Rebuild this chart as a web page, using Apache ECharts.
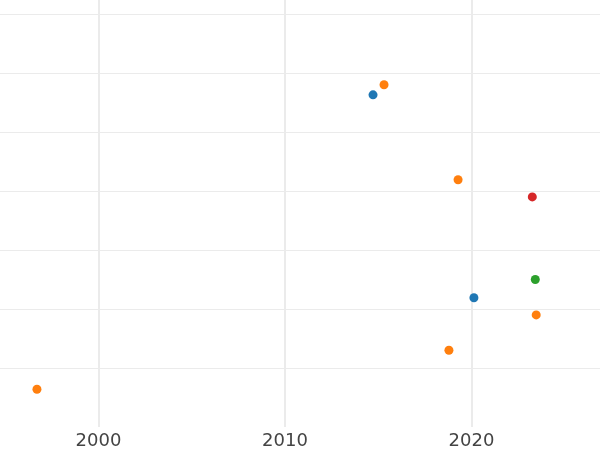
<!DOCTYPE html>
<html>
<head>
<meta charset="utf-8">
<script src="https://cdn.jsdelivr.net/npm/echarts@6/dist/echarts.min.js"></script>
<style>html,body{margin:0;padding:0;background:#fff}#c{width:600px;height:450px}</style>
</head>
<body>
<div id="c"></div>
<script>
var xTicks = [2000, 2010, 2020];
var blueX = [2014.72, 2020.13];
var blueY = [5.63, 2.19];
var orangeX = [1996.70, 2015.31, 2019.28, 2023.47, 2018.79];
var orangeY = [0.64, 5.80, 4.19, 1.90, 1.30];
var greenX = [2023.42];
var greenY = [2.50];
var redX = [2023.26];
var redY = [3.90];

function pairs(xs, ys) { return xs.map(function (x, i) { return [x, ys[i]]; }); }

var groups = [
  { name: 'blue', color: '#1f77b4', x: blueX, y: blueY },
  { name: 'orange', color: '#ff7f0e', x: orangeX, y: orangeY },
  { name: 'green', color: '#2ca02c', x: greenX, y: greenY },
  { name: 'red', color: '#d62728', x: redX, y: redY }
];

var chart = echarts.init(document.getElementById('c'), null, { renderer: 'canvas' });
chart.setOption({
  animation: false,
  backgroundColor: '#ffffff',
  grid: { left: 0, right: 0, top: 0, bottom: 23, containLabel: false },
  xAxis: {
    type: 'value',
    min: 2000 - 98.5 / 18.65,
    max: 2000 + 501.5 / 18.65,
    axisLine: { show: false },
    axisTick: { show: false, customValues: xTicks },
    axisLabel: {
      show: true, margin: 5, fontSize: 18, color: '#444444', fontFamily: 'DejaVu Sans',
      customValues: xTicks,
      formatter: function (v) { return String(Math.round(v)); }
    },
    splitLine: { show: true, lineStyle: { color: '#ebebeb', width: 2 } }
  },
  yAxis: {
    type: 'value',
    min: 0,
    max: 427 / 59,
    interval: 1,
    axisLine: { show: false },
    axisTick: { show: false },
    axisLabel: { show: false },
    splitLine: { show: true, showMinLine: false, showMaxLine: false, lineStyle: { color: '#ebebeb', width: 1 } }
  },
  series: groups.map(function (g) {
    return {
      name: g.name,
      type: 'scatter',
      symbol: 'circle',
      symbolSize: 9,
      itemStyle: { color: g.color, opacity: 1 },
      data: pairs(g.x, g.y)
    };
  })
});
</script>
</body>
</html>
